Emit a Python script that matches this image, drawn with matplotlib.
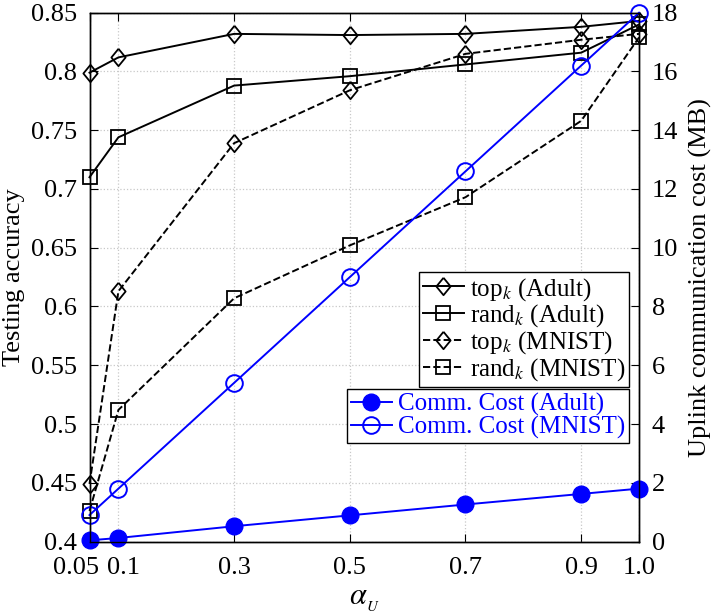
import numpy as np
import matplotlib
matplotlib.use('Agg')
import matplotlib.pyplot as plt
import matplotlib.transforms as mtransforms
from matplotlib import rcParams

# General style (MATLAB-like, Times font)
rcParams['font.family'] = 'Liberation Serif'
rcParams['mathtext.fontset'] = 'stix'
rcParams['font.size'] = 19
rcParams['xtick.direction'] = 'in'
rcParams['ytick.direction'] = 'in'
rcParams['axes.linewidth'] = 1.0

# Data
alpha = [0.05, 0.1, 0.3, 0.5, 0.7, 0.9, 1.0]
topk_adult = [0.799, 0.812, 0.832, 0.831, 0.832, 0.838, 0.843]
randk_adult = [0.710, 0.744, 0.788, 0.796, 0.806, 0.816, 0.840]
topk_mnist = [0.449, 0.613, 0.739, 0.784, 0.815, 0.827, 0.832]
randk_mnist = [0.426, 0.512, 0.607, 0.652, 0.693, 0.758, 0.829]
cost_adult = [0.04, 0.12, 0.52, 0.89, 1.26, 1.62, 1.80]
cost_mnist = [0.9, 1.8, 5.4, 9.0, 12.6, 16.2, 18.0]
xticks = [0.05, 0.1, 0.3, 0.5, 0.7, 0.9, 1.0]
xticklabels = ['0.05', '0.1', '0.3', '0.5', '0.7', '0.9', '1.0']
yticks = [0.4, 0.45, 0.5, 0.55, 0.6, 0.65, 0.7, 0.75, 0.8, 0.85]
yticklabels = ['0.4', '0.45', '0.5', '0.55', '0.6', '0.65', '0.7', '0.75', '0.8', '0.85']
y2ticks = [0, 2, 4, 6, 8, 10, 12, 14, 16, 18]

# MATLAB style diamond
diamond = [(0, 1), (0.82, 0), (0, -1), (-0.82, 0), (0, 1)]

fig = plt.figure(figsize=(7.16, 6.15), dpi=100)
ax = fig.add_axes([0.125, 0.1195, 0.7675, 0.8598])
ax2 = ax.twinx()

lw = 1.4
mk = dict(markerfacecolor='none', markeredgecolor='k', markeredgewidth=1.3, clip_on=False)
l1, = ax.plot(alpha, topk_adult, '-', color='k', lw=lw, marker=diamond, ms=12.5, **mk, label=r'top$_k$ (Adult)')
l2, = ax.plot(alpha, randk_adult, '-', color='k', lw=lw, marker='s', ms=9.5, **mk, label=r'rand$_k$ (Adult)')
l3, = ax.plot(alpha, topk_mnist, '--', color='k', lw=lw, marker=diamond, ms=12.5, **mk, label=r'top$_k$ (MNIST)')
l4, = ax.plot(alpha, randk_mnist, '--', color='k', lw=lw, marker='s', ms=9.5, **mk, label=r'rand$_k$ (MNIST)')

blue = '#0000ff'
c1, = ax2.plot(alpha, cost_adult, '-', color=blue, lw=lw, marker='o', ms=12, markerfacecolor=blue,
               markeredgecolor=blue, clip_on=False, label='Comm. Cost (Adult)')
c2, = ax2.plot(alpha, cost_mnist, '-', color=blue, lw=lw, marker='o', ms=12, markerfacecolor='none',
               markeredgecolor=blue, markeredgewidth=1.4, clip_on=False, label='Comm. Cost (MNIST)')

ax.set_xlim(0.05, 1.0)
ax.set_ylim(0.4, 0.85)
ax2.set_ylim(0, 18)
ax.set_xticks(xticks)
ax.set_xticklabels(xticklabels)
ax.set_yticks(yticks)
ax.set_yticklabels(yticklabels)
ax2.set_yticks(y2ticks)
ax.tick_params(axis='x', top=True, length=6, pad=11)
ax.tick_params(axis='y', length=6, pad=9)
ax2.tick_params(axis='y', length=6, pad=9)
ax.grid(True, linestyle=':', color='#c8c8c8', linewidth=0.9)

# nudge the crowded first two x labels apart
labs = ax.get_xticklabels()
labs[0].set_transform(labs[0].get_transform() + mtransforms.ScaledTranslation(-14 / 100, 0, fig.dpi_scale_trans))
labs[1].set_transform(labs[1].get_transform() + mtransforms.ScaledTranslation(5 / 100, 0, fig.dpi_scale_trans))

ax.set_xlabel(r'$\alpha_{_U}$', fontsize=22, labelpad=4)
ax.set_ylabel('Testing accuracy', fontsize=19, labelpad=4)
ax2.set_ylabel('Uplink communication cost (MB)', fontsize=19, labelpad=8)

leg_kw = dict(loc='upper right', borderaxespad=0, fancybox=False, edgecolor='k', framealpha=1,
              fontsize=18, handlelength=1.65, handletextpad=0.25, borderpad=0.15, labelspacing=0.0)
leg1 = ax2.legend(handles=[l1, l2, l3, l4], bbox_to_anchor=(0.982, 0.5096), **leg_kw)
leg1.get_frame().set_linewidth(1.0)
ax2.add_artist(leg1)
leg2 = ax2.legend(handles=[c1, c2], bbox_to_anchor=(0.982, 0.2884), labelcolor=blue, **leg_kw)
leg2.get_frame().set_linewidth(1.0)

fig.savefig('out.png', dpi=100)
